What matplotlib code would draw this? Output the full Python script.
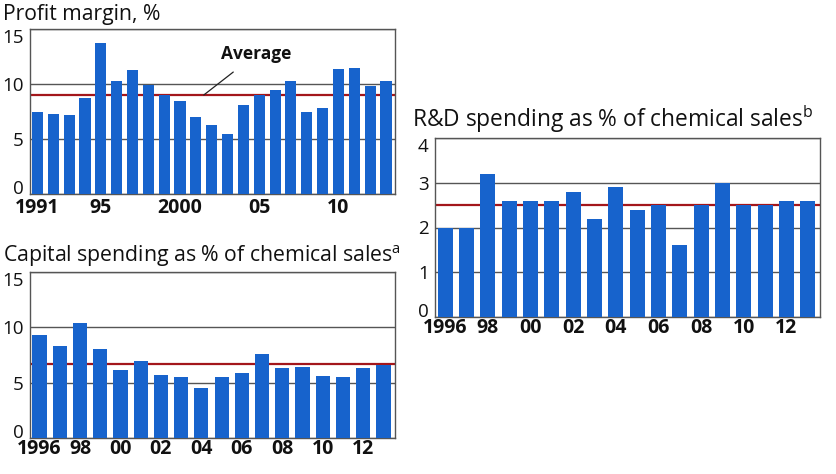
import numpy as np
import matplotlib.pyplot as plt

plt.rcParams['font.family'] = ['Open Sans', 'DejaVu Sans']

# Profit margin, %
profit_years = np.arange(1991, 2014)
profit_vals = [7.5, 7.3, 7.2, 8.7, 13.7, 10.3, 11.3, 9.9, 9.0, 8.5, 7.0, 6.3,
               5.5, 8.1, 9.0, 9.5, 10.3, 7.5, 7.8, 11.4, 11.5, 9.8, 10.3]
profit_avg = 9.0
profit_ticks = [1991, 1995, 2000, 2005, 2010]
profit_ticklabels = ['1991', '95', '2000', '05', '10']

# Capital spending as % of chemical sales
capex_years = np.arange(1996, 2014)
capex_vals = [9.3, 8.3, 10.4, 8.0, 6.1, 7.0, 5.7, 5.5, 4.5, 5.5, 5.9, 7.6,
              6.3, 6.4, 5.6, 5.5, 6.3, 6.6]
capex_avg = 6.7

# R&D spending as % of chemical sales
rd_years = np.arange(1996, 2014)
rd_vals = [2.0, 2.0, 3.2, 2.6, 2.6, 2.6, 2.8, 2.2, 2.9, 2.4, 2.5, 1.6,
           2.5, 3.0, 2.5, 2.5, 2.6, 2.6]
rd_avg = 2.5

even_ticks = list(range(1996, 2013, 2))
even_ticklabels = ['1996', '98', '00', '02', '04', '06', '08', '10', '12']

BLUE = '#1763cc'
RED = '#a3161b'
GRID = '#555555'
INK = '#111111'


def draw(ax, years, vals, avg, ymax, ystep, ticks, ticklabels, xpad):
    ax.bar(years, vals, width=0.7, color=BLUE, zorder=3)
    ax.axhline(avg, color=RED, lw=1.6, zorder=2)
    ax.set_xlim(years[0] - 0.47, years[-1] + 0.57)
    ax.set_ylim(0, ymax)
    ax.set_yticks(np.arange(0, ymax + 0.01, ystep))
    ax.yaxis.grid(True, color=GRID, lw=1.0, zorder=1)
    ax.set_axisbelow(True)
    ax.set_xticks(ticks)
    ax.set_xticklabels(ticklabels, fontweight='bold', fontsize=14)
    ax.tick_params(axis='both', length=0, colors=INK)
    ax.tick_params(axis='y', pad=4.5, labelsize=13.5)
    ax.tick_params(axis='x', pad=xpad)
    # bottom label sits on the axis, top label hangs from it
    ylabels = ax.get_yticklabels()
    ylabels[0].set_va('baseline')
    ylabels[-1].set_va('top')
    for s in ax.spines.values():
        s.set_color(GRID)
        s.set_linewidth(1.0)


W, H = 836, 474
fig = plt.figure(figsize=(W / 100, H / 100), dpi=100)


def axes_px(left, top, right, bottom):
    return fig.add_axes([left / W, 1 - bottom / H, (right - left) / W,
                         (bottom - top) / H])


ax1 = axes_px(30, 29, 395, 194)
ax2 = axes_px(30, 272, 395, 438)
ax3 = axes_px(435, 138, 820, 317)

draw(ax1, profit_years, profit_vals, profit_avg, 15, 5, profit_ticks,
     profit_ticklabels, 3)
draw(ax2, capex_years, capex_vals, capex_avg, 15, 5, even_ticks,
     even_ticklabels, 1)
draw(ax3, rd_years, rd_vals, rd_avg, 4, 1, even_ticks,
     even_ticklabels, 1)

fig.text(3 / W, 1 - 20 / H, 'Profit margin, %', fontsize=15.2, color=INK,
         va='baseline')
fig.text(3 / W, 1 - 262 / H,
         'Capital spending as % of chemical sales$^{\\mathregular{a}}$',
         fontsize=15.3, color=INK, va='baseline')
fig.text(412 / W, 1 - 127 / H,
         'R&D spending as % of chemical sales$^{\\mathregular{b}}$',
         fontsize=16.4, color=INK, va='baseline')

ax1.annotate('Average', xy=(2001.5, profit_avg), xytext=(2004.8, 12.7),
             fontsize=12.5, fontweight='bold', ha='center', va='center',
             color=INK,
             arrowprops=dict(arrowstyle='-', color='#222222', lw=0.9,
                             shrinkA=7, shrinkB=0))

fig.savefig('out.png', dpi=100)
